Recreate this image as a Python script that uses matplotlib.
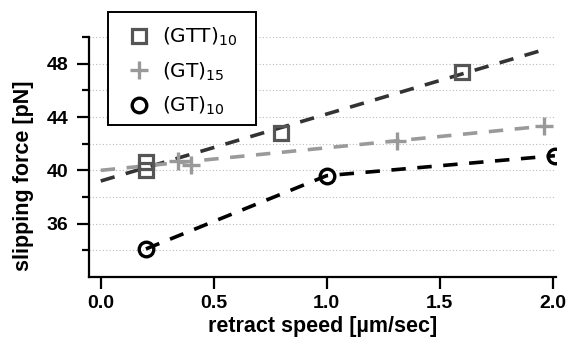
import matplotlib.pyplot as plt
from matplotlib.patches import Rectangle

# data
speed_gtt10 = [0.2, 0.2, 0.8, 1.6]
force_gtt10 = [40.6, 40.0, 42.8, 47.4]
fit_gtt10_x = [0.0, 1.95]
fit_gtt10_y = [39.2, 49.0]

speed_gt15 = [0.34, 0.40, 1.31, 1.96]
force_gt15 = [40.7, 40.4, 42.2, 43.3]
fit_gt15_x = [0.0, 1.95]
fit_gt15_y = [40.0, 43.3]

speed_gt10 = [0.2, 1.0, 2.01]
force_gt10 = [34.1, 39.6, 41.1]

labels = [r'(GTT)$_{\mathregular{10}}$', r'(GT)$_{\mathregular{15}}$', r'(GT)$_{\mathregular{10}}$']

plt.rcParams['font.family'] = ['Liberation Sans', 'DejaVu Sans']

W, H = 569, 347
fig = plt.figure(figsize=(W / 100, H / 100), dpi=100)
ax = fig.add_axes([0.156, 0.202, 0.822, 0.691])

dash = (4, 3.2)
ax.plot(fit_gtt10_x, fit_gtt10_y, color='#333333', lw=2.6, dashes=dash, zorder=2)
ax.plot(fit_gt15_x, fit_gt15_y, color='#9a9a9a', lw=2.6, dashes=dash, zorder=2)
ax.plot(speed_gt10, force_gt10, color='black', lw=2.6, dashes=dash, zorder=2)

h1, = ax.plot(speed_gtt10, force_gtt10, 's', ms=10.5, mfc='none', mec='#555555', mew=2.3, zorder=3)
h2, = ax.plot(speed_gt15, force_gt15, '+', ms=13, mec='#999999', mew=2.4, zorder=3)
h3, = ax.plot(speed_gt10, force_gt10, 'o', ms=10.5, mfc='none', mec='black', mew=2.4, zorder=3)

ax.set_xlim(-0.053, 2.017)
ax.set_ylim(32, 50)
ax.set_xticks([0.0, 0.5, 1.0, 1.5, 2.0])
ax.set_xticklabels(['0.0', '0.5', '1.0', '1.5', '2.0'])
ax.set_yticks([36, 40, 44, 48])
ax.set_yticks([34, 38, 42, 46, 50], minor=True)

ax.grid(True, axis='y', which='both', color='#bbbbbb', linestyle=(0, (1, 2)), lw=0.8)
ax.set_axisbelow(True)

for s in ['top', 'right']:
    ax.spines[s].set_visible(False)
ax.spines['left'].set_linewidth(1.6)
ax.spines['bottom'].set_linewidth(1.6)

ax.tick_params(axis='both', which='major', length=8.6, width=1.6, labelsize=14)
ax.tick_params(axis='x', which='major', pad=4.5)
ax.tick_params(axis='y', which='major', pad=6.3)
ax.tick_params(axis='y', which='minor', length=5, width=1.6)
for t in ax.get_xticklabels() + ax.get_yticklabels():
    t.set_fontweight('bold')

ax.set_xlabel('retract speed [µm/sec]', fontsize=15.5, fontweight='bold', labelpad=3)
fig.text(24 / W, 1 - 176 / H, 'slipping force [pN]', rotation=90, fontsize=15.5,
         fontweight='bold', ha='center', va='center')

# legend box drawn separately so its size matches the reference
fig.patches.append(Rectangle((108 / W, 1 - 125 / H), 148 / W, 113 / H, transform=fig.transFigure,
                             facecolor='white', edgecolor='black', lw=1.4, zorder=4))
leg = fig.legend([h1, h2, h3], labels, loc='upper left', bbox_to_anchor=(108 / W, 1 - 11 / H),
                 frameon=False, prop={'family': 'DejaVu Sans', 'size': 14.5}, handlelength=1.6,
                 handletextpad=0.35, labelspacing=0.6, borderpad=0.75, borderaxespad=0)
leg.set_zorder(5)

fig.savefig('out.png', dpi=100)
